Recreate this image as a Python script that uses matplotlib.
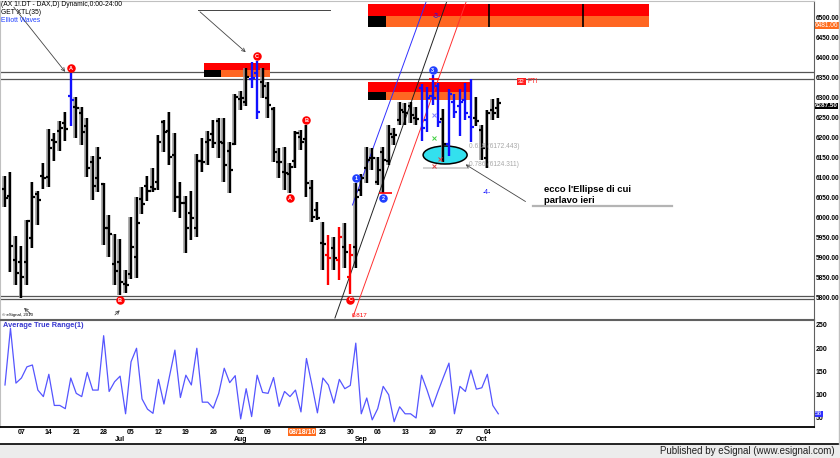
import matplotlib
matplotlib.use("Agg")
import matplotlib.pyplot as plt
from matplotlib.patches import Ellipse, Rectangle
from matplotlib.lines import Line2D

plt.rcParams['font.family'] = ['Liberation Sans', 'DejaVu Sans']

# DAX giornaliero, 02 giu - 06 ott 2010
opens = [6072, 6056, 5895, 5891, 5891, 5951, 6060, 6105, 6103, 6195,
         6217, 6238, 6305, 6278, 6262, 6230, 6140, 6099, 6085, 5974,
         5884, 5890, 5835, 5860, 5903, 6047, 6080, 6077, 6091, 6241,
         6217, 6158, 6053, 6037, 6012, 5974, 6142, 6190, 6209, 6242,
         6188, 6167, 6184, 6297, 6291, 6347, 6362, 6340, 6300, 6272,
         6140, 6116, 6110, 6142, 6203, 6197, 6074, 6020, 5937, 5907,
         5924, 5895, 5928, 5853, 5928, 6070, 6124, 6149, 6090, 6166,
         6142, 6203, 6245, 6266, 6280, 6250, 6324, 6245, 6305, 6330,
         6247, 6185, 6290, 6280, 6295, 6253, 6250, 6220, 6150, 6270, 6274]
highs = [6105, 6114, 5955, 5931, 5995, 6089, 6068, 6137, 6222, 6213,
         6242, 6264, 6362, 6303, 6277, 6249, 6156, 6177, 6087, 6007,
         5960, 5947, 5870, 6002, 6053, 6077, 6105, 6124, 6207, 6245,
         6264, 6212, 6091, 6055, 6067, 6159, 6199, 6217, 6245, 6251,
         6249, 6189, 6309, 6318, 6376, 6389, 6392, 6374, 6341, 6278,
         6176, 6178, 6137, 6217, 6220, 6232, 6095, 6041, 5991, 5957,
         5953, 5978, 5987, 5935, 6087, 6110, 6178, 6174, 6153, 6178,
         6232, 6224, 6291, 6287, 6291, 6278, 6335, 6328, 6357, 6337,
         6272, 6322, 6310, 6322, 6338, 6347, 6303, 6232, 6270, 6297, 6299]
lows = [6028, 5864, 5833, 5799, 5833, 5924, 5983, 6072, 6077, 6142,
        6167, 6192, 6231, 6199, 6183, 6102, 6045, 6066, 5932, 5903,
        5832, 5807, 5812, 5847, 5851, 6009, 6043, 6066, 6070, 6165,
        6133, 6016, 6000, 5912, 5945, 5953, 6116, 6132, 6175, 6149,
        6091, 6062, 6182, 6270, 6280, 6324, 6247, 6300, 6249, 6141,
        6099, 6070, 6063, 6124, 6170, 6053, 5991, 5995, 5870, 5832,
        5870, 5845, 5874, 5809, 5874, 6055, 6087, 6120, 6082, 6062,
        6132, 6182, 6232, 6232, 6237, 6232, 6193, 6216, 6282, 6228,
        6141, 6155, 6250, 6205, 6245, 6191, 6230, 6145, 6124, 6245, 6249]
closes = [6051, 5930, 5862, 5853, 5993, 6053, 6045, 6101, 6176, 6191,
          6225, 6222, 6295, 6274, 6216, 6124, 6080, 6150, 5974, 5960,
          5867, 5841, 5832, 5928, 5988, 6035, 6067, 6072, 6191, 6216,
          6153, 6053, 6037, 5974, 6000, 6142, 6140, 6195, 6187, 6191,
          6132, 6120, 6303, 6301, 6353, 6349, 6266, 6330, 6282, 6166,
          6141, 6113, 6128, 6212, 6191, 6087, 6003, 6000, 5935, 5900,
          5899, 5953, 5916, 5907, 6053, 6100, 6145, 6149, 6120, 6145,
          6209, 6207, 6270, 6262, 6257, 6247, 6224, 6300, 6300, 6240,
          6185, 6310, 6265, 6290, 6262, 6228, 6243, 6174, 6262, 6262, 6287.5]
atr = [121, 243, 125, 136, 160, 164, 110, 96, 144, 77,
       77, 70, 136, 103, 96, 148, 110, 110, 227, 107,
       128, 140, 59, 171, 200, 91, 69, 60, 133, 80,
       139, 196, 94, 142, 121, 200, 84, 84, 71, 103,
       157, 126, 141, 48, 113, 53, 142, 105, 103, 137,
       75, 107, 96, 110, 63, 178, 121, 61, 136, 121,
       82, 133, 113, 120, 211, 59, 93, 46, 70, 118,
       100, 42, 74, 59, 59, 50, 142, 110, 74, 107,
       138, 168, 59, 118, 107, 153, 112, 115, 144, 77, 59]
blue_bars = [12, 45, 46, 76, 77, 78, 79, 81, 82, 83, 84, 85]
red_bars = [59, 61, 63]

week_idx = [3, 8, 13, 18, 23, 28, 33, 38, 43, 48, 58, 63, 68, 73, 78, 83, 88]
week_lbl = ["07", "14", "21", "28", "05", "12", "19", "26", "02", "09",
            "23", "30", "06", "13", "20", "27", "04"]
month_idx = [21, 43, 65, 87]
month_lbl = ["Jul", "Aug", "Sep", "Oct"]
price_ticks = list(range(5800, 6501, 50))
atr_ticks = [50, 100, 150, 200, 250]

# onde: (etichetta, barra, +1 sopra il massimo / -1 sotto il minimo, colore)
waves = [("A", 12, 1, "r"), ("B", 21, -1, "r"), ("C", 46, 1, "r"),
         ("A", 52, -1, "r"), ("B", 55, 1, "r"), ("C", 63, -1, "r"),
         ("1", 64, 1, "b"), ("2", 69, -1, "b"), ("3", 78, 1, "b")]

hlines = [6364, 6347.5, 5805, 5797.5]
# zone: (x0, x1, prezzo alto, medio, basso, fine blocco nero)
zones = [(66.2, 117.5, 6535, 6505, 6477.5, 69.5),
         (66.2, 85.2, 6339, 6316, 6295, 69.5),
         (36.3, 48.4, 6387.5, 6370, 6352.5, 39.4)]
zone_marks = [88.3, 105.5]
trendlines = [((63.4, 6032.5), (76.95, 6545), "#3030ff"),
              ((60.2, 5750), (80.7, 6545), "#222222"),
              ((63.5, 5753), (84.25, 6545), "#ff3030")]

W, H = 840, 458
RED, BLUE, ORANGE = "#ff0000", "#1010ff", "#ff6a1a"
n = len(closes)


def fbox(x0, y0, x1, y1):
    return [x0 / W, 1 - y1 / H, (x1 - x0) / W, (y1 - y0) / H]


fig = plt.figure(figsize=(W / 100, H / 100), dpi=100)
ax = fig.add_axes(fbox(0, 1, 814, 319))
ax2 = fig.add_axes(fbox(0, 320, 814, 427))
xlim = (-0.91, 147.6)

# barre OHLC
for i in range(n):
    c = BLUE if i in blue_bars else RED if i in red_bars else "black"
    if c == "black":
        ax.vlines(i - 0.32, lows[i], highs[i], color="#9a9a9a", lw=1.1, zorder=2)
    ax.vlines(i, lows[i], highs[i], color=c, lw=1.7, zorder=3)
    ax.hlines(opens[i], i - 0.55, i, color=c, lw=1.6, zorder=3)
    ax.hlines(closes[i], i, i + 0.55, color=c, lw=1.6, zorder=3)

for p in hlines:
    ax.axhline(p, color="#555555", lw=0.9, zorder=1)

for x0, x1, pt, pm, pb, xb in zones:
    ax.add_patch(Rectangle((x0, pm), x1 - x0, pt - pm, fc=RED, ec="none", zorder=1))
    ax.add_patch(Rectangle((x0, pb), x1 - x0, pm - pb, fc="#ff6622", ec="none", zorder=1))
    ax.add_patch(Rectangle((x0, pb), xb - x0, pm - pb, fc="black", ec="none", zorder=1))
for xm in zone_marks:
    ax.vlines(xm, zones[0][4], zones[0][2], color="black", lw=1.2, zorder=1)

for (xa, ya), (xb, yb), col in trendlines:
    ax.plot([xa, xb], [ya, yb], color=col, lw=0.7, zorder=2)

ax.add_patch(Ellipse((80.3, 6157.5), 8.03, 45, fc="#33e0ee", ec="black", lw=1.1, zorder=1.5))

for lbl, i, side, col in waves:
    p = highs[i] + 13 if side > 0 else lows[i] - 13
    ax.scatter(i, p, s=26, color=RED if col == "r" else "#2040ff", zorder=5)
    ax.text(i, p, lbl, color="white", fontsize=4, fontweight="bold",
            ha="center", va="center", zorder=6)

ax.hlines(6063, 68.2, 70.6, color=RED, lw=1.2, zorder=4)
ax.hlines(6347.5, 77.4, 79.2, color=RED, lw=1.2, zorder=4)

# frecce e note
arr = dict(arrowstyle="->", color="#444444", lw=0.6, mutation_scale=6)
ax.annotate("", xy=(11.3, 6360), xytext=(1.3, 6532.5), arrowprops=arr)
ax.plot([35.2, 59.3], [6520, 6520], color="#444444", lw=0.7)
ax.annotate("", xy=(44.3, 6410), xytext=(35.2, 6520), arrowprops=arr)
ax.annotate("", xy=(3.1, 5780), xytext=(5.1, 5755), arrowprops=arr)
ax.annotate("", xy=(21.3, 5774), xytext=(19.7, 5753), arrowprops=arr)
ax.annotate("", xy=(83.6, 6137.5), xytext=(95.4, 6037.5), arrowprops=arr)
ax.plot([96.4, 121.7], [6030, 6030], color="#b4b4b4", lw=1.6)
ax.text(98.4, 6070, "ecco l'Ellipse di cui", fontsize=6.8, fontweight="bold", va="center")
ax.text(98.4, 6043, "parlavo ieri", fontsize=6.8, fontweight="bold", va="center")

ax.hlines(6124, 76.3, 84.4, color="#c8c8c8", lw=1.2, zorder=1)
ax.text(84.7, 6180, "0.618 (6172.443)", fontsize=4.8, color="#a8a8a8", va="center")
ax.text(84.7, 6132.5, "0.786 (6124.311)", fontsize=4.8, color="#a8a8a8", va="center")
ax.plot(78.3, 6257.5, marker="x", color="#8080ff", ms=3, mew=0.7, zorder=4)
ax.plot(78.3, 6200, marker="x", color="#40d040", ms=3, mew=0.7, zorder=4)
ax.plot(79.4, 6147.5, marker="x", color="#e04040", ms=3, mew=0.7, zorder=4)
ax.plot(78.3, 6130, marker="x", color="#e04040", ms=3, mew=0.7, zorder=4)
ax.text(78.8, 6505, "-3-", fontsize=4.8, color=BLUE, ha="center", va="center", zorder=4)
ax.text(88, 6062.5, "-4-", fontsize=4.8, color=BLUE, ha="center", va="center")
ax.text(94.2, 6342, "32", fontsize=4.3, color="white", ha="center", va="center",
        bbox=dict(boxstyle="square,pad=0.15", fc="#ff2020", ec="none"))
ax.text(95.4, 6342, "PTI", fontsize=4.8, color="#ff2020", va="center")
ax.text(63.3, 5757, "0.817", fontsize=4.5, color=RED, va="center")
ax.text(-0.6, 5757.5, "\u00a9 eSignal, 2010", fontsize=3.2, va="center")

ax.set_xlim(xlim)
ax.set_ylim(5747.5, 6542.5)
ax.set_xticks([])
ax.yaxis.tick_right()
ax.set_yticks(price_ticks)
ax.set_yticklabels([f"{p:.2f}" for p in price_ticks], fontweight="bold")
ax.tick_params(axis="y", length=0, pad=1, labelsize=4.7)
for k, col in [("top", "#c0c0c0"), ("left", "#c0c0c0"), ("right", "#606060"), ("bottom", "#606060")]:
    ax.spines[k].set_color(col)

box = dict(boxstyle="square,pad=0.05", ec="none")
ax.annotate("6481.06", xy=(1, 6481.06), xycoords=("axes fraction", "data"), xytext=(0.8, 0),
            textcoords="offset points", ha="left", va="center", fontsize=4.7, color="white",
            bbox=dict(box, fc=ORANGE), annotation_clip=False)
ax.annotate("6287.50", xy=(1, closes[-1]), xycoords=("axes fraction", "data"), xytext=(0.8, -2),
            textcoords="offset points", ha="left", va="center", fontsize=4.5, color="white",
            fontweight="bold", bbox=dict(box, fc="black"), annotation_clip=False)

# pannello ATR
ax2.plot(range(n), atr, color="#5555ff", lw=0.9)
ax2.set_xlim(xlim)
ax2.set_ylim(30.6, 260.75)
ax2.yaxis.tick_right()
ax2.set_yticks(atr_ticks)
ax2.set_yticklabels([str(v) for v in atr_ticks], fontweight="bold")
ax2.set_xticks(week_idx)
ax2.set_xticklabels(week_lbl, fontweight="bold")
ax2.tick_params(length=0, labelsize=5)
ax2.tick_params(axis="x", pad=1.5)
ax2.tick_params(axis="y", pad=1)
for k, col in [("top", "#606060"), ("left", "#c0c0c0"), ("right", "#606060"), ("bottom", "black")]:
    ax2.spines[k].set_color(col)
ax2.spines["bottom"].set_linewidth(1.3)
ax2.text(0.004, 0.944, "Average True Range(1)", transform=ax2.transAxes, fontsize=5.3,
         color="#3838d0", fontweight="bold", va="center")
for idx, lbl in zip(month_idx, month_lbl):
    ax2.annotate(lbl, (idx, 0), xycoords=("data", "axes fraction"), xytext=(0, -9),
                 textcoords="offset points", ha="center", va="center", fontsize=5,
                 fontweight="bold")
ax2.annotate("08/18/10", (54.2, 0), xycoords=("data", "axes fraction"), xytext=(0, -3.7),
             textcoords="offset points", ha="center", va="center", fontsize=5, color="white",
             fontweight="bold", bbox=dict(box, fc=ORANGE), annotation_clip=False)
ax2.annotate("58", xy=(1, atr[-1]), xycoords=("axes fraction", "data"), xytext=(0.8, 0),
             textcoords="offset points", ha="left", va="center", fontsize=4.6, color="white",
             bbox=dict(box, fc="#3030ff"), annotation_clip=False, zorder=5)

# intestazione
fig.text(1 / W, 1 - 5 / H, "(AX 1!.DT - DAX,D) Dynamic,0:00-24:00", fontsize=4.9, va="center")
fig.text(1 / W, 1 - 12.5 / H, "GET XTL(35)", fontsize=4.9, va="center")
fig.text(1 / W, 1 - 20 / H, "Elliott Waves", fontsize=4.9, color="#2040ff", va="center")

# fascia in basso e bordi
fig.patches.append(Rectangle((0, 0), 1, 14 / H, transform=fig.transFigure, fc="#ececec", ec="none"))
fig.add_artist(Line2D([0, 1], [14 / H, 14 / H], color="black", lw=1.2, transform=fig.transFigure))
fig.add_artist(Line2D([838.5 / W, 838.5 / W], [14 / H, 1], color="#c0c0c0", lw=1, transform=fig.transFigure))
fig.text(835 / W, 1 - 451 / H, "Published by eSignal (www.esignal.com)", fontsize=7,
         color="#222222", ha="right", va="center")

fig.savefig("out.png", dpi=100)
